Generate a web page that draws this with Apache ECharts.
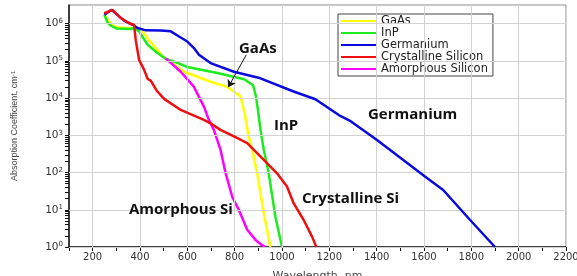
<!DOCTYPE html>
<html>
<head>
<meta charset="utf-8">
<script src="https://cdn.jsdelivr.net/npm/echarts@6/dist/echarts.min.js"></script>
<style>
  html, body { margin: 0; padding: 0; background: #fff; }
  #chart { width: 577px; height: 276px; }
</style>
</head>
<body>
<div id="chart"></div>
<script>
// [wavelength nm, absorption coefficient cm^-1]
const gaas = [[249, 1.74e6], [262, 1.3e6], [280, 9.3e5], [300, 8.0e5], [340, 7.6e5], [375, 7.6e5],
  [411, 6.2e5], [438, 3.6e5], [467, 2.2e5], [495, 1.32e5], [586, 5.1e4], [698, 2.75e4], [769, 2.0e4],
  [825, 1.1e4], [845, 3.2e3], [858, 1.0e3], [874, 400], [895, 95], [923, 8.1], [951, 1]]
const inp = [[249, 1.74e6], [262, 1.1e6], [275, 8.9e5], [300, 7.4e5], [360, 7.2e5], [375, 7.6e5],
  [396, 6.2e5], [432, 2.7e5], [474, 1.62e5], [509, 1.12e5], [558, 8.9e4], [600, 6.8e4], [727, 4.7e4],
  [790, 3.8e4], [840, 3.2e4], [878, 2.2e4], [890, 1.1e4], [900, 4.0e3], [909, 1.4e3], [923, 410],
  [944, 95], [972, 6.5], [1000, 1]]
const germanium = [[249, 1.74e6], [280, 2.34e6], [333, 1.2e6], [369, 9.3e5], [390, 7.6e5], [425, 6.6e5],
  [488, 6.5e5], [530, 6.2e5], [565, 4.5e5], [600, 3.3e5], [628, 2.2e5], [649, 1.45e5], [698, 8.7e4],
  [797, 5.1e4], [909, 3.4e4], [1049, 1.5e4], [1141, 9.3e3], [1240, 3.5e3], [1290, 2.4e3], [1400, 760],
  [1604, 78], [1681, 34], [1794, 5.4], [1900, 1]]
const crystallineSi = [[249, 1.9e6], [284, 2.34e6], [319, 1.41e6], [354, 1.02e6], [375, 9.3e5], [382, 3.6e5],
  [396, 1.07e5], [403, 8.7e4], [417, 5.8e4], [432, 3.3e4], [446, 2.9e4], [470, 1.6e4], [502, 9.5e3],
  [572, 4.8e3], [670, 2.6e3], [698, 2.1e3], [740, 1.4e3], [825, 760], [853, 620], [923, 220], [979, 95],
  [1021, 42], [1049, 15], [1091, 5.4], [1127, 1.9], [1145, 1]]
const amorphousSi = [[509, 1.17e5], [572, 5.1e4], [628, 2.0e4], [670, 5.9e3], [691, 2.6e3], [712, 1.4e3],
  [740, 410], [762, 95], [790, 22], [818, 9.8], [853, 2.9], [888, 1.55], [916, 1.12], [930, 1]]

const xGrid = [200, 400, 600, 800, 1000, 1200, 1400, 1600, 1800, 2000, 2200]
const yDecades = [1, 10, 100, 1000, 10000, 100000, 1000000]
const yMinor = yDecades.slice(0, -1).flatMap(d => [2, 3, 4, 5, 6, 7, 8, 9].map(m => m * d))
const gaasArrow = [[849, 1.45e5], [773, 1.96e4]]

const colors = { gaas: '#FFFF00', inp: '#1EEB1E', ge: '#0A0ADC', csi: '#EE1010', asi: '#FF00FF' }
const labelColor = '#333'
const noteFont = 'bold 15px "Open Sans"'

const chart = echarts.init(document.getElementById('chart'), null, { renderer: 'canvas' })

function line(name, data, color, z) {
  return {
    name: name,
    type: 'line',
    data: data,
    showSymbol: false,
    symbol: 'none',
    z: z,
    color: color,
    lineStyle: { color: color, width: 2.5 }
  }
}

function note(text, x, y) {
  return { type: 'text', x: x, y: y, z: 20, style: { text: text, font: noteFont, fill: '#111', textVerticalAlign: 'middle' } }
}

chart.setOption({
  animation: false,
  grid: {
    left: 69, right: 11, top: 5, bottom: 29,
    outerBoundsMode: 'none',
    show: true, borderColor: '#8a8a8a', borderWidth: 1
  },
  legend: {
    orient: 'vertical',
    left: 338,
    top: 14,
    data: ['GaAs', 'InP', 'Germanium', 'Crystalline Silicon', 'Amorphous Silicon'],
    icon: 'rect',
    itemWidth: 35,
    itemHeight: 2,
    itemGap: 0,
    padding: [1, 5, 1, 3],
    borderColor: '#444',
    borderWidth: 1,
    backgroundColor: '#fff',
    textStyle: { fontFamily: 'DejaVu Sans', fontSize: 11.5, color: '#222', lineHeight: 11.3 }
  },
  xAxis: {
    type: 'value',
    min: 100,
    max: 2200,
    interval: 100,
    name: 'Wavelength, nm',
    nameLocation: 'middle',
    nameGap: 24,
    nameTextStyle: { fontFamily: 'DejaVu Sans', fontSize: 11, color: '#444' },
    axisLine: { lineStyle: { color: '#111', width: 1.5 } },
    axisTick: { length: 4, lineStyle: { color: '#111' } },
    splitLine: { show: false },
    axisLabel: {
      margin: 5,
      fontFamily: 'DejaVu Sans',
      fontSize: 10,
      color: labelColor,
      formatter: v => (v % 200 === 0 ? String(v) : '')
    }
  },
  yAxis: {
    type: 'log',
    logBase: 10,
    min: 1,
    max: 3162278,
    name: '{a|Absorption Coefficient, cm}{b|-1}',
    nameLocation: 'middle',
    nameGap: 50,
    nameTextStyle: {
      rich: {
        a: { fontFamily: 'Liberation Sans', fontSize: 9, color: '#444' },
        b: { fontFamily: 'Liberation Sans', fontSize: 6, color: '#444', verticalAlign: 'top' }
      }
    },
    axisLine: { show: true, lineStyle: { color: '#111', width: 1.5 } },
    axisTick: { show: true, length: 4, customValues: yDecades.concat(yMinor), lineStyle: { color: '#111' } },
    splitLine: { show: false },
    axisLabel: {
      margin: 6,
      customValues: yDecades,
      formatter: v => '{a|10}{b|' + Math.round(Math.log10(v)) + '}',
      rich: {
        a: { fontFamily: 'DejaVu Sans', fontSize: 10.5, color: labelColor, lineHeight: 12 },
        b: { fontFamily: 'DejaVu Sans', fontSize: 7, color: labelColor, verticalAlign: 'top' }
      }
    }
  },
  graphic: [
    note('GaAs', 239, 48.5),
    note('InP', 274, 126),
    note('Germanium', 368, 115),
    note('Crystalline Si', 302, 199),
    note('Amorphous Si', 129, 210)
  ],
  series: [
    {
      // grid lines
      type: 'line',
      data: [],
      z: 1,
      markLine: {
        silent: true,
        symbol: 'none',
        label: { show: false },
        lineStyle: { color: '#d2d2d2', width: 1, type: 'solid' },
        data: xGrid.map(v => ({ xAxis: v })).concat(yDecades.map(v => ({ yAxis: v })))
      }
    },
    line('GaAs', gaas, colors.gaas, 2),
    line('InP', inp, colors.inp, 3),
    line('Amorphous Silicon', amorphousSi, colors.asi, 4),
    line('Germanium', germanium, colors.ge, 5),
    line('Crystalline Silicon', crystallineSi, colors.csi, 6),
    {
      // GaAs pointer arrow
      type: 'line',
      data: [],
      z: 8,
      markLine: {
        silent: true,
        symbol: ['none', 'arrow'],
        symbolSize: 7,
        label: { show: false },
        lineStyle: { color: '#111', width: 1, type: 'solid' },
        data: [[{ coord: gaasArrow[0] }, { coord: gaasArrow[1] }]]
      }
    }
  ]
})
</script>
</body>
</html>
